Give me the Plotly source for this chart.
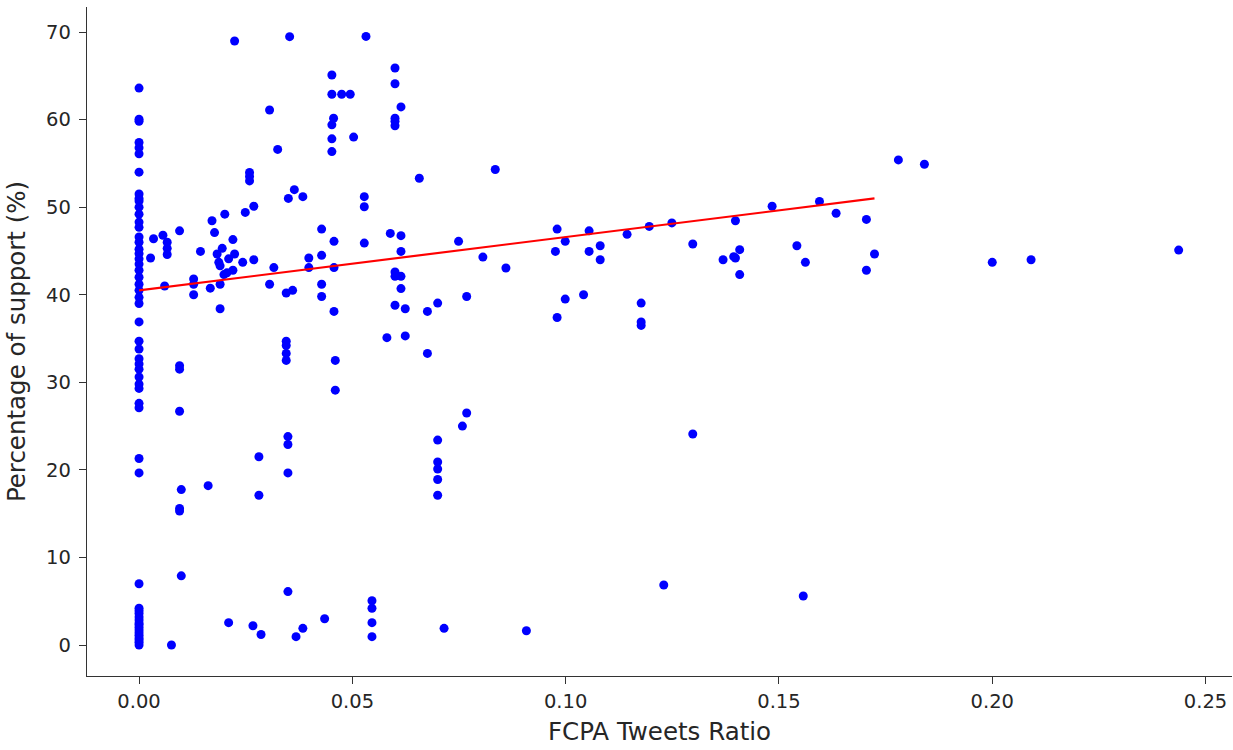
import plotly.graph_objects as go

# Points with FCPA Tweets Ratio == 0
zero_ratio_support = [63.6, 60.05, 59.8, 57.4, 56.8, 56.1, 54.0, 51.5, 51.0, 50.7, 50.0, 49.2,
                      48.3, 47.7, 46.6, 46.0, 45.2, 44.7, 44.1, 43.5, 42.8, 42.0, 41.2, 40.5,
                      39.7, 39.0, 36.9, 34.7, 33.8, 32.7, 32.1, 31.5, 30.6, 29.8, 29.3, 27.6,
                      27.1, 21.3, 19.65, 7.0, 4.2, 3.9, 3.6, 3.2, 2.85, 2.5, 2.3, 2.0, 1.7,
                      1.4, 1.1, 0.8, 0.57, 0.3, 0.0]

# Remaining points
ratio = [0.0027, 0.0034, 0.0056, 0.0060, 0.0066, 0.0066, 0.0066, 0.0076,
         0.0095, 0.0095, 0.0095, 0.0095, 0.0099, 0.0095, 0.0095, 0.0099,
         0.0128, 0.0128, 0.0128, 0.0144, 0.0162, 0.0167, 0.0171, 0.0177,
         0.0183, 0.0187, 0.0190, 0.0190, 0.0190, 0.0195, 0.0201, 0.0199, 0.0206,
         0.0210, 0.0210, 0.0220, 0.0220, 0.0224, 0.0224, 0.0243, 0.0249, 0.0259, 0.0259, 0.0259,
         0.0267, 0.0269, 0.0269, 0.0281, 0.0281, 0.0286,
         0.0306, 0.0306, 0.0316, 0.0325, 0.0345, 0.0345, 0.0345, 0.0345, 0.0345,
         0.0349, 0.0349, 0.0349, 0.0349, 0.0350, 0.0353, 0.0360, 0.0364, 0.0368,
         0.0384, 0.0384, 0.0398, 0.0398, 0.0428, 0.0428, 0.0428, 0.0428, 0.0435,
         0.0452, 0.0452, 0.0456, 0.0452, 0.0452, 0.0452, 0.0457, 0.0457, 0.0457, 0.0460, 0.0460,
         0.0475, 0.0495, 0.0503, 0.0528, 0.0528, 0.0528, 0.0532, 0.0546, 0.0546, 0.0546, 0.0546,
         0.0581, 0.0589, 0.0600, 0.0600, 0.0600, 0.0600, 0.0600, 0.0600, 0.0600, 0.0600,
         0.0614, 0.0614, 0.0614, 0.0614, 0.0614, 0.0624, 0.0624, 0.0657, 0.0676, 0.0676,
         0.0700, 0.0700, 0.0700, 0.0700, 0.0700, 0.0700, 0.0715, 0.0749, 0.0758, 0.0768, 0.0768,
         0.0806, 0.0835, 0.0860, 0.0908,
         0.0976, 0.0980, 0.0980, 0.0999, 0.0999, 0.1042, 0.1055, 0.1055, 0.1081, 0.1081,
         0.1144, 0.1177, 0.1177, 0.1177, 0.1196, 0.1230, 0.1249, 0.1298, 0.1298, 0.1369,
         0.1394, 0.1398, 0.1398, 0.1408, 0.1408, 0.1484, 0.1542, 0.1557, 0.1562, 0.1595,
         0.1634, 0.1705, 0.1705, 0.1724, 0.1780, 0.1841, 0.2000, 0.2091, 0.2437]
support = [44.2, 46.4, 46.8, 41.0, 46.0, 45.3, 44.6, 0.0,
           47.3, 31.9, 31.5, 26.7, 17.75, 15.6, 15.3, 7.9,
           41.8, 41.2, 40.0, 44.95, 18.2, 40.75, 48.45, 47.1,
           44.65, 43.7, 43.3, 41.2, 38.4, 45.3, 49.2, 42.3, 42.5,
           44.1, 2.55, 46.3, 42.8, 44.65, 68.98, 43.7, 49.4, 53.97, 53.5, 53.0,
           2.2, 50.1, 44.0, 21.5, 17.1, 1.2,
           61.1, 41.2, 43.1, 56.6, 40.2, 34.7, 34.2, 33.3, 32.5,
           23.8, 22.9, 19.65, 6.1, 51.0, 69.47, 40.5, 52.0, 0.95,
           51.2, 1.9, 44.2, 43.1, 47.5, 44.5, 41.2, 39.8, 3.0,
           65.1, 62.9, 60.15, 59.4, 57.8, 56.35, 46.1, 43.1, 38.1, 32.5, 29.1,
           62.9, 62.9, 58.0, 51.2, 50.05, 45.9, 69.5, 5.05, 4.2, 2.55, 0.95,
           35.1, 47.0, 65.9, 64.1, 60.15, 59.8, 59.3, 42.6, 42.1, 38.8,
           61.45, 46.75, 44.95, 42.1, 40.7, 38.4, 35.3, 53.3, 38.1, 33.3,
           39.05, 23.4, 20.9, 20.1, 18.9, 17.1, 1.9, 46.1, 25.0, 26.5, 39.8,
           44.3, 54.3, 43.05, 1.63,
           44.95, 47.5, 37.4, 46.1, 39.5, 40.0, 47.3, 44.95, 45.6, 44.0,
           46.9, 39.05, 36.9, 36.5, 47.8, 6.85, 48.2, 45.8, 24.1, 44.0,
           44.35, 48.45, 44.2, 45.15, 42.3, 50.1, 45.6, 5.6, 43.7, 50.65,
           49.3, 48.6, 42.8, 44.65, 55.4, 54.9, 43.7, 44.0, 45.1]

# Fitted regression line endpoints
fit_x = [0.0, 0.1724]
fit_y = [40.5, 51.0]

x_ticks = [0.00, 0.05, 0.10, 0.15, 0.20, 0.25]
x_tick_labels = ["0.00", "0.05", "0.10", "0.15", "0.20", "0.25"]
y_ticks = [0, 10, 20, 30, 40, 50, 60, 70]

all_x = [0.0] * len(zero_ratio_support) + ratio
all_y = zero_ratio_support + support

fig = go.Figure()
fig.add_trace(go.Scatter(x=all_x, y=all_y, mode="markers",
                         marker=dict(color="#0000ff", size=9, line=dict(width=0)),
                         showlegend=False, hoverinfo="skip"))
fig.add_trace(go.Scatter(x=fit_x, y=fit_y, mode="lines",
                         line=dict(color="#ff0000", width=2.2),
                         showlegend=False, hoverinfo="skip"))

font_family = "DejaVu Sans"
fig.update_layout(
    width=1233, height=750,
    margin=dict(l=87, r=1, t=7, b=74),
    paper_bgcolor="white", plot_bgcolor="white",
    font=dict(family=font_family, size=19.5, color="#262626"),
    xaxis=dict(range=[-0.0122, 0.2562], tickvals=x_ticks, ticktext=x_tick_labels,
               automargin=False,
               showgrid=False, zeroline=False, showline=True, linecolor="#333333", linewidth=1.4,
               ticks="outside", ticklen=7, tickwidth=1.3, tickcolor="#333333",
               tickfont=dict(family=font_family, size=19.5, color="#262626"),
               title=dict(text="FCPA Tweets Ratio", font=dict(family=font_family, size=24.5, color="#262626"),
                          standoff=11)),
    yaxis=dict(range=[-3.54, 72.86], tickvals=y_ticks,
               automargin=False, ticklabelstandoff=4,
               showgrid=False, zeroline=False, showline=True, linecolor="#333333", linewidth=1.4,
               ticks="outside", ticklen=7, tickwidth=1.3, tickcolor="#333333",
               tickfont=dict(family=font_family, size=19.5, color="#262626"),
               title=dict(text="Percentage of support (%)", font=dict(family=font_family, size=24.5, color="#262626"),
                          standoff=13)),
)

fig.write_html("out.html",
               config={"displayModeBar": False},
               post_script="document.body.style.margin='0';document.body.style.overflow='hidden';")
